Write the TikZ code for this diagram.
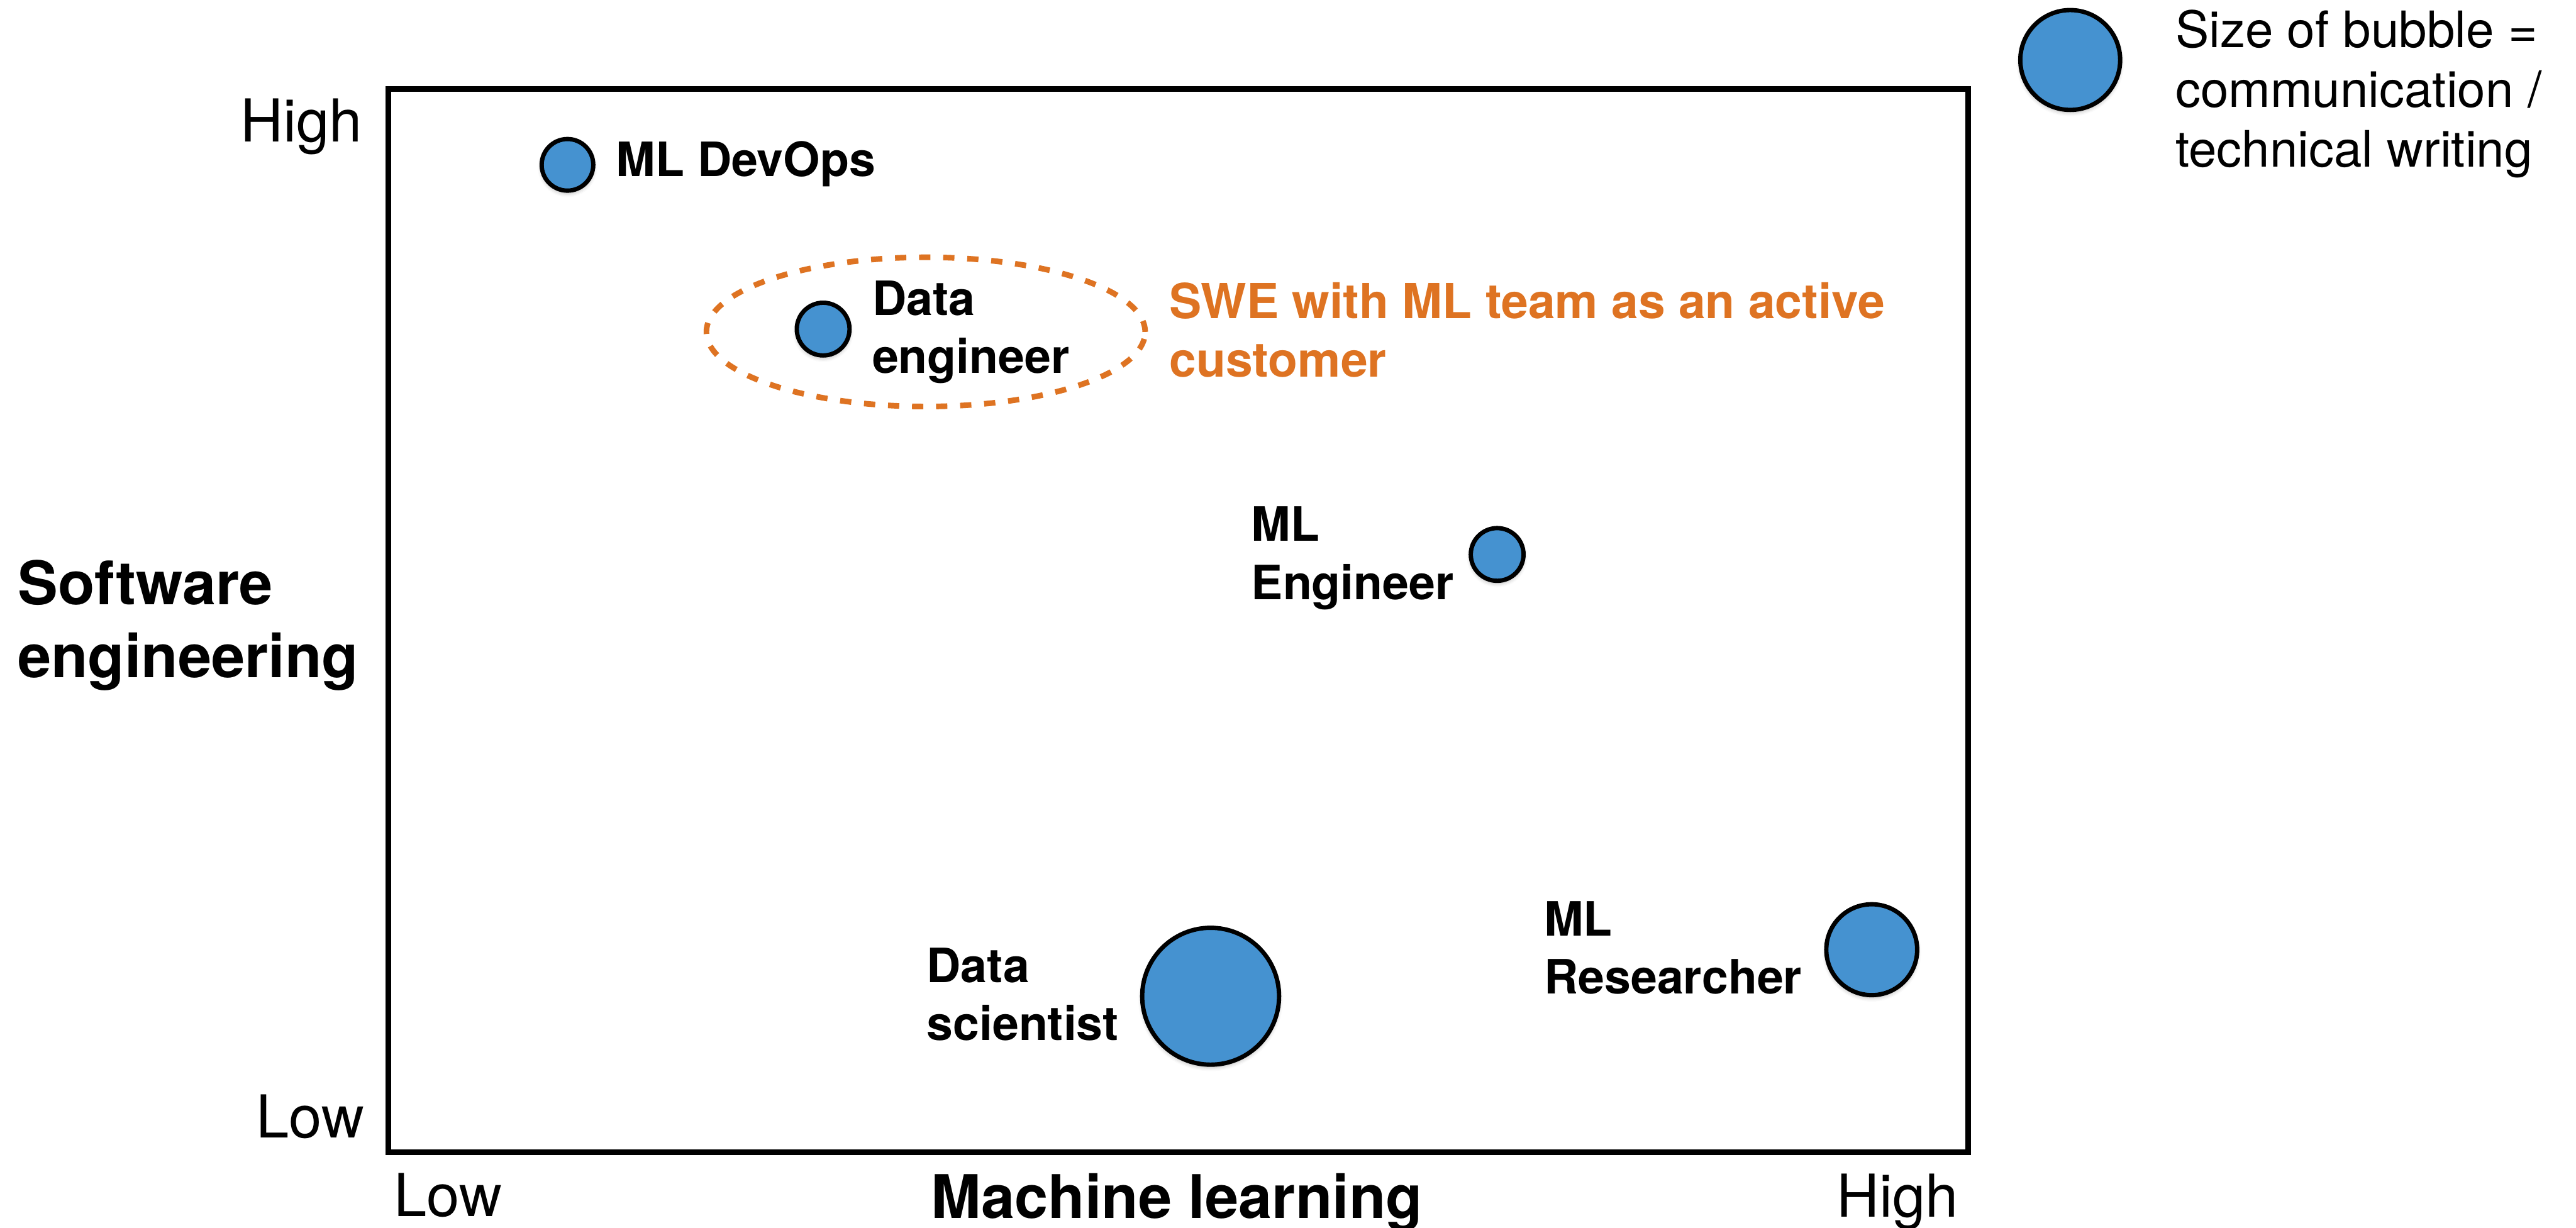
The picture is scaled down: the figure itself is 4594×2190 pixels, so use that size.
\documentclass[tikz,border=0pt]{standalone}
\usepackage{fontspec}
\setmainfont{TeX Gyre Heros}
\usetikzlibrary{shapes.geometric,shadows.blur}
\definecolor{bubbleblue}{RGB}{69,146,208}
\definecolor{teamorange}{RGB}{222,115,34}
\begin{document}
\begin{tikzpicture}[x=0.01cm,y=-0.01cm,
  bubble/.style={circle, draw=black, line width=2.2pt, fill=bubbleblue, inner sep=0pt,
    blur shadow={shadow xshift=0pt, shadow yshift=-1.3pt, shadow blur radius=2pt, shadow opacity=30}},
  ticklab/.style={font=\fontsize{30}{36}\selectfont, inner sep=0pt},
  axlab/.style={font=\fontsize{30.5}{37}\selectfont\bfseries, inner sep=0pt, align=left, anchor=base west},
  rolelab/.style={font=\fontsize{24}{29.6}\selectfont\bfseries, inner sep=0pt, align=left, anchor=base west},
  frameline/.style={line width=2.85pt, draw=black},
  groupring/.style={ellipse, draw=teamorange, line width=2.85pt, dash pattern=on 5.7pt off 6.5pt, inner sep=0pt},
]
\useasboundingbox (0,0) rectangle (4594,2190);
% frame
\draw[frameline] (693,159) rectangle (3510,2055);
% axis tick labels
\node[ticklab, anchor=base east] (yhigh) at (647,253) {High};
\node[ticklab, anchor=base east] (ylow) at (650,2030) {Low};
\node[ticklab, anchor=base west] (xlow) at (702,2170) {Low};
\node[ticklab, anchor=base east] (xhigh) at (3493,2171) {High};
% axis labels (multi-line nodes are anchored at the baseline of their last line)
\node[axlab] (xlab) at (1660,2173) {Machine learning};
\node[axlab] (ylab) at (31,1208) {Software\\engineering};
% group ellipse
\node[groupring, minimum width=7.82cm, minimum height=2.66cm] (group) at (1651,592) {};
\node[rolelab, text=teamorange, font=\fontsize{24.5}{29.6}\selectfont\bfseries] (groupL) at (2085,672) {SWE with ML team as an active\\customer};
% bubbles
\node[bubble, minimum size=0.92cm] (devops) at (1012,294) {};
\node[rolelab] (devopsL) at (1098,315) {ML DevOps};
\node[bubble, minimum size=0.94cm] (dataeng) at (1468,587) {};
\node[rolelab] (dataengL) at (1555,666) {Data\\engineer};
\node[bubble, minimum size=0.94cm] (mleng) at (2670,989) {};
\node[rolelab] (mlengL) at (2231,1069) {ML\\Engineer};
\node[bubble, minimum size=2.44cm] (datasci) at (2159,1777) {};
\node[rolelab] (datasciL) at (1652,1856) {Data\\scientist};
\node[bubble, minimum size=1.62cm] (mlres) at (3338,1694) {};
\node[rolelab] (mlresL) at (2753,1773) {ML\\Researcher};
% legend
\node[bubble, minimum size=1.78cm] (legend) at (3692,107) {};
\node[font=\fontsize{25.5}{30.4}\selectfont, inner sep=0pt, align=left, anchor=base west] (legendL) at (3879,298) {Size of bubble =\\communication /\\technical writing};
\end{tikzpicture}
\end{document}
